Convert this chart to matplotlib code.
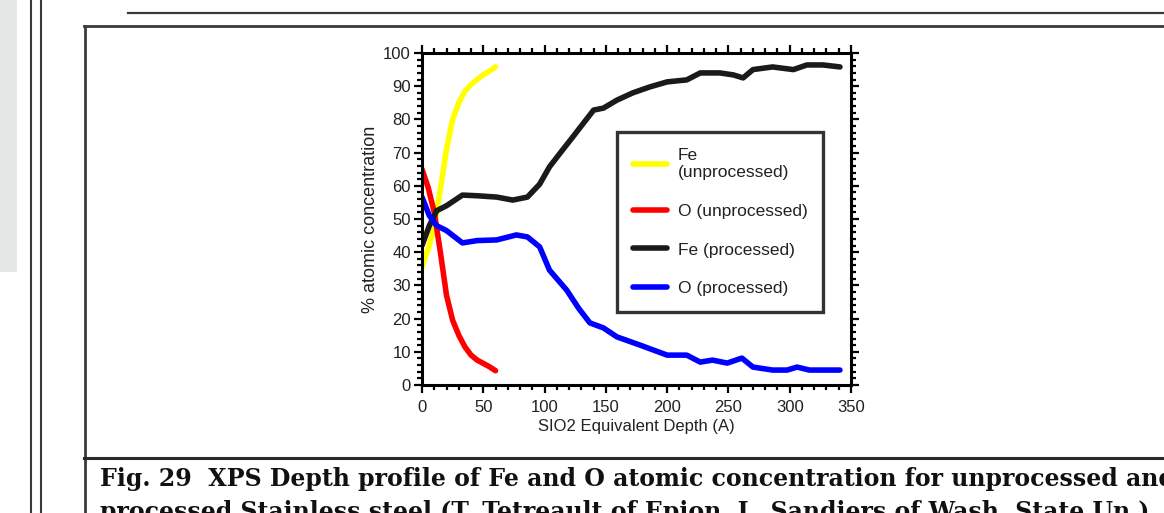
import matplotlib.pyplot as plt
from matplotlib.lines import Line2D
from matplotlib.patches import Rectangle
from matplotlib.ticker import MultipleLocator

W, H = 1164, 513

# XPS depth profiles, depth in Angstrom (SiO2 equivalent)
fe_unproc_x = [0, 5, 10, 15, 20, 25, 30, 35, 40, 45, 50, 55, 60]
fe_unproc_y = [35.5, 41, 47.5, 59, 71, 80, 85, 88.5, 90.5, 92, 93.5, 94.5, 95.8]

o_unproc_x = [0, 5, 10, 15, 20, 25, 30, 35, 40, 45, 50, 55, 60]
o_unproc_y = [65, 59.5, 52, 40, 27, 19.5, 15, 11.5, 9, 7.5, 6.5, 5.5, 4.3]

fe_proc_x = [0, 6, 12, 20, 33, 45, 61, 74, 86, 96, 104, 113, 123, 132, 140,
             148, 159, 172, 186, 200, 216, 227, 243, 254, 262, 270, 286, 303,
             314, 327, 341]
fe_proc_y = [42, 48, 52.5, 54, 57.2, 57, 56.6, 55.7, 56.6, 60.5, 65.7, 70,
             74.7, 79, 82.8, 83.4, 85.8, 88, 89.8, 91.3, 91.9, 94, 94, 93.4,
             92.5, 95, 95.8, 95, 96.4, 96.4, 95.8]

o_proc_x = [0, 6, 12, 20, 33, 45, 61, 77, 86, 96, 104, 118, 128, 137, 148,
            159, 178, 200, 216, 227, 237, 249, 261, 270, 286, 298, 306, 316,
            327, 341]
o_proc_y = [56.6, 51, 48, 46.5, 42.8, 43.5, 43.7, 45.2, 44.6, 41.6, 34.6,
            28.6, 23, 18.7, 17.2, 14.5, 12, 9, 9, 6.9, 7.5, 6.6, 8.1, 5.4,
            4.5, 4.5, 5.4, 4.5, 4.5, 4.5]

fig = plt.figure(figsize=(W / 100, H / 100), dpi=100)


def fx(px):
    return px / W


def fy(py):
    return 1 - py / H


def hline(x0, x1, y, lw=1.5, color='#3a3a3a'):
    fig.add_artist(Line2D([fx(x0), fx(x1)], [fy(y), fy(y)], lw=lw, color=color))


def vline(x, y0, y1, lw=1.5, color='#3a3a3a'):
    fig.add_artist(Line2D([fx(x), fx(x)], [fy(y0), fy(y1)], lw=lw, color=color))


# page furniture around the figure
fig.add_artist(Rectangle((0, fy(272)), fx(17), 1 - fy(272), color='#e3e7e6', lw=0))
vline(31, 0, H)
vline(41, 0, H)
hline(128, W, 12.5, lw=1.6)
vline(84.5, 26, H, lw=2)
hline(84, W, 26, lw=2)
hline(84, W, 457.5, lw=2.2, color='#2a2a2a')

cap = {'family': 'DejaVu Serif', 'weight': 'bold', 'size': 17, 'color': '#111111'}
fig.text(fx(100), fy(479), 'Fig. 29  XPS Depth profile of Fe and O atomic concentration for unprocessed and',
         va='center', **cap)
fig.text(fx(100), fy(512), 'processed Stainless steel (T. Tetreault of Epion, L. Sandiers of Wash. State Un.)',
         va='center', **cap)

ax = fig.add_axes([fx(422), fy(385), fx(851) - fx(422), fy(53) - fy(385)])

ax.plot(fe_unproc_x, fe_unproc_y, color='#ffff00', lw=4, label='Fe\n(unprocessed)', solid_capstyle='round')
ax.plot(o_unproc_x, o_unproc_y, color='#ff0000', lw=4, label='O (unprocessed)', solid_capstyle='round')
ax.plot(fe_proc_x, fe_proc_y, color='#1a1a1a', lw=4, label='Fe (processed)', solid_capstyle='round')
ax.plot(o_proc_x, o_proc_y, color='#0000ff', lw=4, label='O (processed)', solid_capstyle='round')

ax.set_xlim(0, 350)
ax.set_ylim(0, 100)
ax.xaxis.set_major_locator(MultipleLocator(50))
ax.xaxis.set_minor_locator(MultipleLocator(10))
ax.yaxis.set_major_locator(MultipleLocator(10))
ax.yaxis.set_minor_locator(MultipleLocator(2))

for s in ax.spines.values():
    s.set_linewidth(2.2)
ax.tick_params(which='both', direction='out', top=True, right=True, width=1.6,
               labelsize=12, labelcolor='#222222', pad=2)
ax.tick_params(which='major', length=6)
ax.tick_params(which='minor', length=3.5)
ax.tick_params(axis='x', which='major', pad=5)

font = {'family': 'Liberation Sans', 'color': '#222222'}
ax.set_xlabel('SIO2 Equivalent Depth (A)', fontdict=font, size=12, labelpad=3)
ax.set_ylabel('% atomic concentration', fontdict=font, size=13, labelpad=3)
for lab in ax.get_xticklabels() + ax.get_yticklabels():
    lab.set_family('Liberation Sans')

leg = ax.legend(loc='upper left', bbox_to_anchor=((617 - 422) / 429, (385 - 132) / 332),
                borderaxespad=0, fancybox=False, shadow=False, frameon=True,
                prop={'family': 'Liberation Sans', 'size': 12.5}, handlelength=2.0,
                handletextpad=0.6, labelspacing=1.36, borderpad=0.9)
leg.get_frame().set_edgecolor('black')
leg.get_frame().set_linewidth(2.4)
for t in leg.get_texts():
    t.set_color('#222222')

fig.savefig('out.png', dpi=100)
